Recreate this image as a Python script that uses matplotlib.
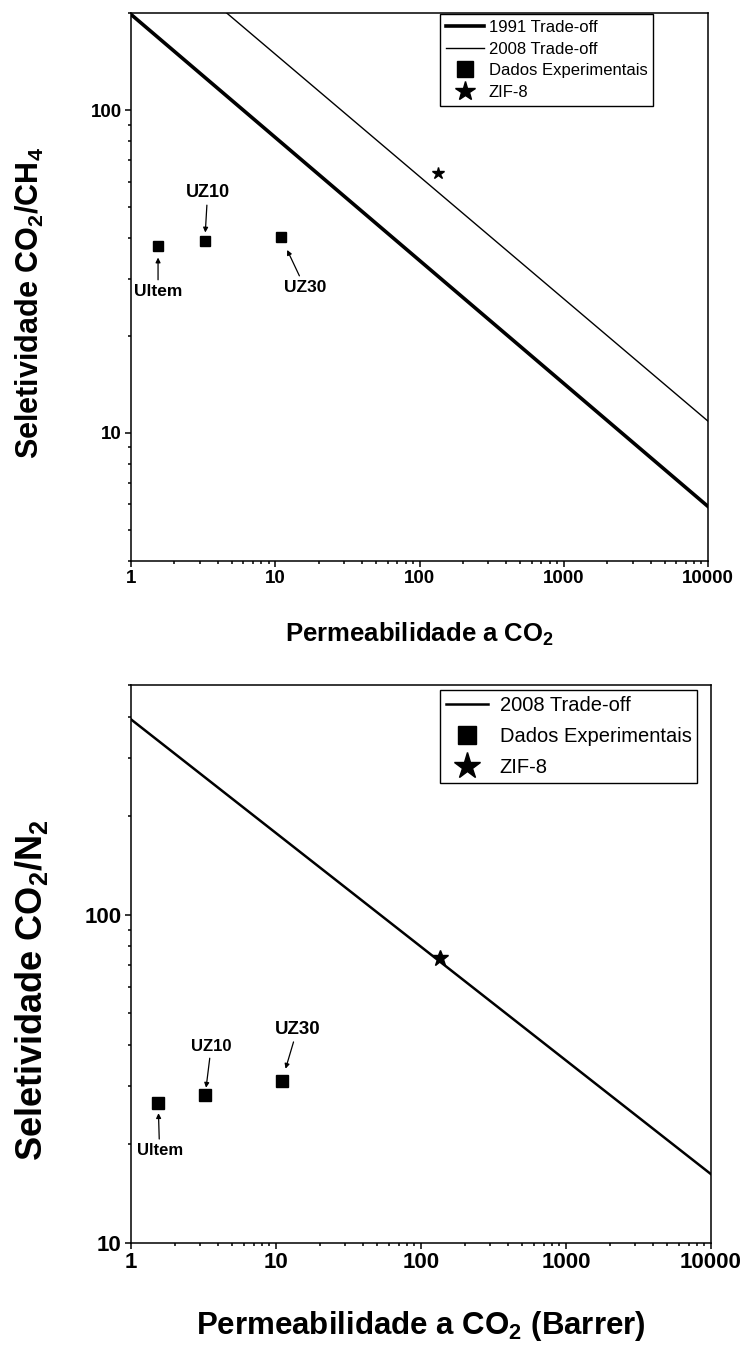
import matplotlib
matplotlib.use('Agg')
import matplotlib.pyplot as plt
from matplotlib.ticker import LogLocator, NullFormatter, FuncFormatter

plt.rcParams['font.family'] = ['Liberation Sans', 'DejaVu Sans']
plt.rcParams['mathtext.fontset'] = 'custom'
plt.rcParams['mathtext.rm'] = 'Liberation Sans'
plt.rcParams['mathtext.bf'] = 'Liberation Sans:bold'

# membranas medidas
materiais = ['Ultem', 'UZ10', 'UZ30']
perm_co2 = [1.54, 3.25, 11.0]
sel_co2_ch4 = [38.0, 39.4, 40.3]
sel_co2_n2 = [26.6, 28.3, 31.2]

# ZIF-8
zif8_perm = [135]
zif8_sel_ch4 = [64]
zif8_sel_n2 = [74]

# limites de Robeson (pontos em P=1 e P=10000)
ub_perm = [1, 10000]
ub1991_ch4 = [198, 5.9]
ub2008_ch4 = [357, 10.85]
ub2008_n2 = [393, 16.2]


def estilo(ax, ylim, tsize):
    ax.set_xscale('log')
    ax.set_yscale('log')
    ax.set_xlim(1, 10000)
    ax.set_ylim(*ylim)
    fmt = FuncFormatter(lambda v, p: '%d' % round(v))
    for a in (ax.xaxis, ax.yaxis):
        a.set_major_locator(LogLocator(base=10))
        a.set_minor_locator(LogLocator(base=10, subs=range(2, 10)))
        a.set_major_formatter(fmt)
        a.set_minor_formatter(NullFormatter())
    ax.tick_params(which='both', direction='out', top=False, right=False, width=1.1)
    ax.tick_params(which='major', length=4.3, pad=2.5, labelsize=tsize)
    ax.tick_params(which='minor', length=2.5)
    for lab in ax.get_xticklabels() + ax.get_yticklabels():
        lab.set_fontweight('bold')
    for s in ax.spines.values():
        s.set_linewidth(1.1)


def seta(ax, txt, x, y, dx, dy, size, shrink):
    ax.annotate(txt, xy=(x, y), xytext=(dx, dy), textcoords='offset points',
                ha='center', va='center', fontsize=size, fontweight='bold',
                arrowprops=dict(arrowstyle='-|>', color='k', lw=0.9,
                                shrinkA=1, shrinkB=shrink, mutation_scale=7))


fig = plt.figure(figsize=(7.46, 13.53), dpi=100)
ax1 = fig.add_axes([0.1756, 0.5854, 0.7735, 0.4050])
ax2 = fig.add_axes([0.1756, 0.0813, 0.7775, 0.4124])

# ---- CO2/CH4
ax1.plot(ub_perm, ub1991_ch4, 'k-', lw=2.6, label='1991 Trade-off')
ax1.plot(ub_perm, ub2008_ch4, 'k-', lw=1.0, label='2008 Trade-off')
ax1.plot(perm_co2, sel_co2_ch4, 's', color='k', ms=7.2, label='Dados Experimentais')
ax1.plot(zif8_perm, zif8_sel_ch4, '*', color='k', ms=9, label='ZIF-8')
estilo(ax1, (4, 200), 13.5)
leg = ax1.legend(loc='upper left', bbox_to_anchor=(0.536, 0.998), fontsize=12,
                 fancybox=False, edgecolor='k', framealpha=1, borderpad=0.35,
                 labelspacing=0.4, handlelength=2.3, handletextpad=0.25,
                 markerscale=1.6, borderaxespad=0)
leg.get_frame().set_linewidth(1.0)

seta(ax1, 'Ultem', perm_co2[0], sel_co2_ch4[0], 0, -33, 12.5, 8.6)
seta(ax1, 'UZ10', perm_co2[1], sel_co2_ch4[1], 2, 34.6, 13, 5.8)
seta(ax1, 'UZ30', perm_co2[2], sel_co2_ch4[2], 17, -36, 12.5, 10)

fig.text(0.0402, 0.776, r'Seletividade CO$_\mathbf{2}$/CH$_\mathbf{4}$', rotation=90,
         ha='center', va='center', fontsize=22, fontweight='bold')
fig.text(0.5622, 0.5315, r'Permeabilidade a CO$_\mathbf{2}$', ha='center', va='center',
         fontsize=18.5, fontweight='bold')

# ---- CO2/N2
ax2.plot(ub_perm, ub2008_n2, 'k-', lw=1.8, label='2008 Trade-off')
ax2.plot(perm_co2, sel_co2_n2, 's', color='k', ms=8, label='Dados Experimentais')
ax2.plot(zif8_perm, zif8_sel_n2, '*', color='k', ms=12, label='ZIF-8')
estilo(ax2, (10, 500), 16)
leg2 = ax2.legend(loc='upper left', bbox_to_anchor=(0.533, 0.991), fontsize=14.5,
                  fancybox=False, edgecolor='k', framealpha=1, borderpad=0.3,
                  labelspacing=0.6, handlelength=2.1, handletextpad=0.55,
                  markerscale=1.7, borderaxespad=0)
leg2.get_frame().set_linewidth(1.0)

seta(ax2, 'Ultem', perm_co2[0], sel_co2_n2[0], 1, -34, 12, 7)
seta(ax2, 'UZ10', perm_co2[1], sel_co2_n2[1], 4.3, 34.6, 12, 5)
seta(ax2, 'UZ30', perm_co2[2], sel_co2_n2[2], 11, 37, 13.5, 9)

fig.text(0.0416, 0.2683, r'Seletividade CO$_\mathbf{2}$/N$_\mathbf{2}$', rotation=90,
         ha='center', va='center', fontsize=26, fontweight='bold')
fig.text(0.5643, 0.02, r'Permeabilidade a CO$_\mathbf{2}$ (Barrer)', ha='center', va='center',
         fontsize=22.5, fontweight='bold')

fig.savefig('out.png', dpi=100)
